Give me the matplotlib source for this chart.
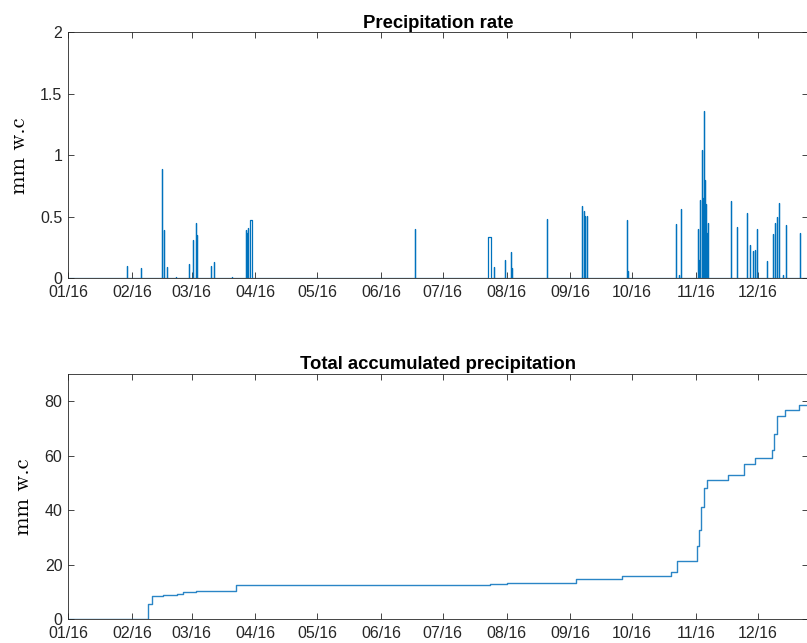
import numpy as np
import pandas as pd
import matplotlib
matplotlib.use('Agg')
import matplotlib.pyplot as plt
import matplotlib.dates as mdates

# days counted from 01 Jan 2016
start = pd.Timestamp('2016-01-01')
end_day = 359.2

# precipitation rate events: start day, end day, value (mm w.e)
rate_start = [28.8, 35.3, 45.8, 46.6, 47.9, 52.6, 58.6, 60.7, 62.3, 62.6, 69.5, 70.9, 79.6,
              86.4, 86.9, 87.4, 88.2, 168.7, 203.8, 207.0, 212.1, 215.3, 215.6, 232.8,
              249.5, 250.5, 251.2, 251.9, 271.3, 271.8, 295.1, 296.9, 297.9,
              305.8, 306.4, 306.9, 307.9, 308.4, 308.9, 309.5, 310.0, 310.5, 311.0,
              321.8, 324.7, 329.6, 331.1, 332.5, 333.8, 334.5, 339.5, 342.6, 343.4,
              344.5, 345.5, 347.1, 348.6, 355.5]
rate_end = [28.8, 35.3, 45.8, 46.6, 47.9, 52.6, 58.6, 60.7, 62.3, 62.6, 69.5, 70.9, 79.6,
            86.4, 86.9, 87.4, 89.4, 168.7, 205.4, 207.0, 212.1, 215.3, 215.6, 232.8,
            249.5, 250.5, 251.2, 251.9, 271.3, 271.8, 295.1, 296.9, 297.9,
            305.8, 306.4, 306.9, 307.9, 308.4, 308.9, 309.5, 310.0, 310.5, 311.0,
            321.8, 324.7, 329.6, 331.1, 332.5, 333.8, 334.5, 339.5, 342.6, 343.4,
            344.5, 345.5, 347.1, 348.6, 355.5]
rate_val = [0.10, 0.08, 0.886, 0.39, 0.09, 0.01, 0.116, 0.31, 0.45, 0.35, 0.10, 0.13, 0.01,
            0.39, 0.37, 0.41, 0.47, 0.40, 0.338, 0.09, 0.15, 0.214, 0.08, 0.48,
            0.588, 0.55, 0.51, 0.51, 0.47, 0.06, 0.44, 0.03, 0.566,
            0.40, 0.15, 0.64, 1.04, 0.65, 1.36, 0.80, 0.60, 0.37, 0.45,
            0.63, 0.417, 0.53, 0.27, 0.22, 0.23, 0.40, 0.14, 0.36, 0.45,
            0.50, 0.61, 0.03, 0.43, 0.366]

# total accumulated precipitation (step changes)
cum_day = [0, 21.9, 39.0, 40.6, 46.0, 52.8, 56.0, 62.0, 70.0, 81.6, 205.0, 213.0,
           246.7, 268.9, 292.9, 295.9, 304.2, 305.5, 306.4, 307.6, 309.0, 310.2,
           320.4, 328.2, 333.7, 341.9, 343.0, 344.5, 348.2, 355.2, 366.0]
cum_val = [0, 0.2, 5.6, 8.65, 8.8, 9.2, 10.1, 10.3, 10.5, 12.45, 12.8, 13.3,
           14.7, 15.9, 17.5, 21.2, 21.5, 27.0, 32.7, 41.3, 48.0, 51.2,
           52.9, 56.9, 59.2, 62.0, 68.0, 74.5, 76.6, 78.5, 78.5]

# build the spike line from the events
xs, ys = [0], [0]
for s, e, v in zip(rate_start, rate_end, rate_val):
    xs += [s, s, e, e]
    ys += [0, v, v, 0]
xs.append(366)
ys.append(0)

rate_t = start + pd.to_timedelta(np.array(xs), unit='D')
cum_t = start + pd.to_timedelta(np.array(cum_day), unit='D')

blue = '#0072BD'
axcol = '#262626'
tickfont = 'Liberation Sans'

fig = plt.figure(figsize=(8.07, 6.43), dpi=100)
ax1 = fig.add_axes([0.0843, 0.5672, 0.9164, 0.3826])
ax2 = fig.add_axes([0.0843, 0.0369, 0.9164, 0.3820])

ax1.plot(rate_t, ys, color=blue, lw=0.9)
ax2.plot(cum_t, cum_val, color='#2a85c6', lw=1.0, drawstyle='steps-post')

ax1.set_ylim(0, 2)
ax1.set_yticks([0, 0.5, 1, 1.5, 2])
ax1.set_yticklabels(['0', '0.5', '1', '1.5', '2'])
ax2.set_ylim(0, 90)
ax2.set_yticks([0, 20, 40, 60, 80])

for ax, title in [(ax1, 'Precipitation rate'), (ax2, 'Total accumulated precipitation')]:
    ax.set_xlim(start, start + pd.Timedelta(days=end_day))
    ax.xaxis.set_major_locator(mdates.MonthLocator())
    ax.xaxis.set_major_formatter(mdates.DateFormatter('%m/%y'))
    ax.tick_params(direction='in', top=True, right=True, length=4.5, width=0.6,
                   colors=axcol, labelsize=11.5, pad=4)
    ax.tick_params(axis='x', pad=5)
    for lab in ax.get_xticklabels() + ax.get_yticklabels():
        lab.set_fontfamily(tickfont)
    for sp in ax.spines.values():
        sp.set_color(axcol)
        sp.set_linewidth(0.6)
    ax.set_title(title, fontsize=13.3, fontweight='bold', fontfamily=tickfont, pad=3)
    ax.set_ylabel('mm w.c', fontsize=16, fontfamily='cmr10', labelpad=8)

fig.savefig('out.png', dpi=100)
